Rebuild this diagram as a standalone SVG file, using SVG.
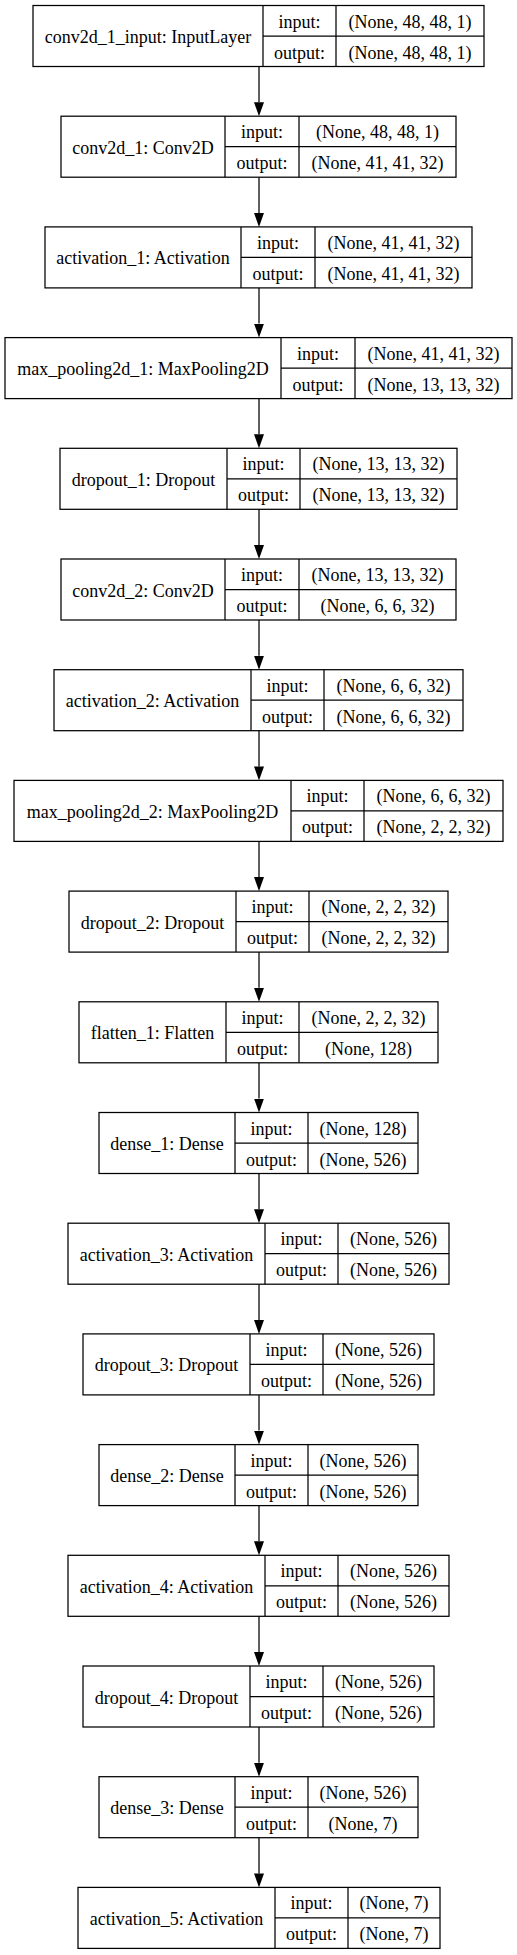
<svg xmlns="http://www.w3.org/2000/svg" width="517" height="1955" viewBox="0 0 517 1955">
<style>
.box{fill:#fff;stroke:#000;stroke-width:1.25}
.ln{stroke:#000;stroke-width:1.25;fill:none}
text{font-family:"Liberation Serif","Times New Roman",serif;font-size:18px;fill:#000;text-anchor:middle}
.edge{stroke:#000;stroke-width:1.25;fill:none;marker-end:url(#ah)}
</style>
<defs>
<marker id="ah" markerUnits="userSpaceOnUse" markerWidth="14" markerHeight="10" refX="0" refY="5" orient="auto">
<path d="M0,0 L14,5 L0,10 z" fill="#000"/>
</marker>
</defs>
<rect width="517" height="1955" fill="#fff"/>
<g id="connectors">
<line class="edge" x1="259" y1="66.5" x2="259" y2="102.2"/>
<line class="edge" x1="259" y1="177.2" x2="259" y2="212.9"/>
<line class="edge" x1="259" y1="287.9" x2="259" y2="323.6"/>
<line class="edge" x1="259" y1="398.6" x2="259" y2="434.3"/>
<line class="edge" x1="259" y1="509.3" x2="259" y2="545"/>
<line class="edge" x1="259" y1="620" x2="259" y2="655.7"/>
<line class="edge" x1="259" y1="730.7" x2="259" y2="766.4"/>
<line class="edge" x1="259" y1="841.4" x2="259" y2="877.1"/>
<line class="edge" x1="259" y1="952.1" x2="259" y2="987.8"/>
<line class="edge" x1="259" y1="1062.8" x2="259" y2="1098.5"/>
<line class="edge" x1="259" y1="1173.5" x2="259" y2="1209.2"/>
<line class="edge" x1="259" y1="1284.2" x2="259" y2="1319.9"/>
<line class="edge" x1="259" y1="1394.9" x2="259" y2="1430.6"/>
<line class="edge" x1="259" y1="1505.6" x2="259" y2="1541.3"/>
<line class="edge" x1="259" y1="1616.3" x2="259" y2="1652"/>
<line class="edge" x1="259" y1="1727" x2="259" y2="1762.7"/>
<line class="edge" x1="259" y1="1837.7" x2="259" y2="1873.4"/>
</g>
<g id="conv2d_1_input" transform="translate(0,5.5)">
<rect class="box" x="33" y="0" width="451" height="61"/>
<line class="ln" x1="263" y1="0" x2="263" y2="61"/><line class="ln" x1="336" y1="0" x2="336" y2="61"/><line class="ln" x1="263" y1="30.5" x2="484" y2="30.5"/>
<text x="148" y="37.5">conv2d_1_input: InputLayer</text>
<text x="299.5" y="22">input:</text><text x="299.5" y="53">output:</text>
<text x="410" y="22">(None, 48, 48, 1)</text><text x="410" y="53">(None, 48, 48, 1)</text>
</g>
<g id="conv2d_1" transform="translate(0,116.2)">
<rect class="box" x="61" y="0" width="395" height="61"/>
<line class="ln" x1="225" y1="0" x2="225" y2="61"/><line class="ln" x1="299" y1="0" x2="299" y2="61"/><line class="ln" x1="225" y1="30.5" x2="456" y2="30.5"/>
<text x="143" y="37.5">conv2d_1: Conv2D</text>
<text x="262" y="22">input:</text><text x="262" y="53">output:</text>
<text x="377.5" y="22">(None, 48, 48, 1)</text><text x="377.5" y="53">(None, 41, 41, 32)</text>
</g>
<g id="activation_1" transform="translate(0,226.9)">
<rect class="box" x="45" y="0" width="427" height="61"/>
<line class="ln" x1="241" y1="0" x2="241" y2="61"/><line class="ln" x1="315" y1="0" x2="315" y2="61"/><line class="ln" x1="241" y1="30.5" x2="472" y2="30.5"/>
<text x="143" y="37.5">activation_1: Activation</text>
<text x="278" y="22">input:</text><text x="278" y="53">output:</text>
<text x="393.5" y="22">(None, 41, 41, 32)</text><text x="393.5" y="53">(None, 41, 41, 32)</text>
</g>
<g id="max_pooling2d_1" transform="translate(0,337.6)">
<rect class="box" x="5" y="0" width="507" height="61"/>
<line class="ln" x1="281" y1="0" x2="281" y2="61"/><line class="ln" x1="355" y1="0" x2="355" y2="61"/><line class="ln" x1="281" y1="30.5" x2="512" y2="30.5"/>
<text x="143" y="37.5">max_pooling2d_1: MaxPooling2D</text>
<text x="318" y="22">input:</text><text x="318" y="53">output:</text>
<text x="433.5" y="22">(None, 41, 41, 32)</text><text x="433.5" y="53">(None, 13, 13, 32)</text>
</g>
<g id="dropout_1" transform="translate(0,448.3)">
<rect class="box" x="60" y="0" width="397" height="61"/>
<line class="ln" x1="227" y1="0" x2="227" y2="61"/><line class="ln" x1="300" y1="0" x2="300" y2="61"/><line class="ln" x1="227" y1="30.5" x2="457" y2="30.5"/>
<text x="143.5" y="37.5">dropout_1: Dropout</text>
<text x="263.5" y="22">input:</text><text x="263.5" y="53">output:</text>
<text x="378.5" y="22">(None, 13, 13, 32)</text><text x="378.5" y="53">(None, 13, 13, 32)</text>
</g>
<g id="conv2d_2" transform="translate(0,559)">
<rect class="box" x="61" y="0" width="395" height="61"/>
<line class="ln" x1="225" y1="0" x2="225" y2="61"/><line class="ln" x1="299" y1="0" x2="299" y2="61"/><line class="ln" x1="225" y1="30.5" x2="456" y2="30.5"/>
<text x="143" y="37.5">conv2d_2: Conv2D</text>
<text x="262" y="22">input:</text><text x="262" y="53">output:</text>
<text x="377.5" y="22">(None, 13, 13, 32)</text><text x="377.5" y="53">(None, 6, 6, 32)</text>
</g>
<g id="activation_2" transform="translate(0,669.7)">
<rect class="box" x="54" y="0" width="409" height="61"/>
<line class="ln" x1="251" y1="0" x2="251" y2="61"/><line class="ln" x1="324" y1="0" x2="324" y2="61"/><line class="ln" x1="251" y1="30.5" x2="463" y2="30.5"/>
<text x="152.5" y="37.5">activation_2: Activation</text>
<text x="287.5" y="22">input:</text><text x="287.5" y="53">output:</text>
<text x="393.5" y="22">(None, 6, 6, 32)</text><text x="393.5" y="53">(None, 6, 6, 32)</text>
</g>
<g id="max_pooling2d_2" transform="translate(0,780.4)">
<rect class="box" x="14" y="0" width="489" height="61"/>
<line class="ln" x1="291" y1="0" x2="291" y2="61"/><line class="ln" x1="364" y1="0" x2="364" y2="61"/><line class="ln" x1="291" y1="30.5" x2="503" y2="30.5"/>
<text x="152.5" y="37.5">max_pooling2d_2: MaxPooling2D</text>
<text x="327.5" y="22">input:</text><text x="327.5" y="53">output:</text>
<text x="433.5" y="22">(None, 6, 6, 32)</text><text x="433.5" y="53">(None, 2, 2, 32)</text>
</g>
<g id="dropout_2" transform="translate(0,891.1)">
<rect class="box" x="69" y="0" width="379" height="61"/>
<line class="ln" x1="236" y1="0" x2="236" y2="61"/><line class="ln" x1="309" y1="0" x2="309" y2="61"/><line class="ln" x1="236" y1="30.5" x2="448" y2="30.5"/>
<text x="152.5" y="37.5">dropout_2: Dropout</text>
<text x="272.5" y="22">input:</text><text x="272.5" y="53">output:</text>
<text x="378.5" y="22">(None, 2, 2, 32)</text><text x="378.5" y="53">(None, 2, 2, 32)</text>
</g>
<g id="flatten_1" transform="translate(0,1001.8)">
<rect class="box" x="79" y="0" width="359" height="61"/>
<line class="ln" x1="226" y1="0" x2="226" y2="61"/><line class="ln" x1="299" y1="0" x2="299" y2="61"/><line class="ln" x1="226" y1="30.5" x2="438" y2="30.5"/>
<text x="152.5" y="37.5">flatten_1: Flatten</text>
<text x="262.5" y="22">input:</text><text x="262.5" y="53">output:</text>
<text x="368.5" y="22">(None, 2, 2, 32)</text><text x="368.5" y="53">(None, 128)</text>
</g>
<g id="dense_1" transform="translate(0,1112.5)">
<rect class="box" x="99" y="0" width="319" height="61"/>
<line class="ln" x1="235" y1="0" x2="235" y2="61"/><line class="ln" x1="308" y1="0" x2="308" y2="61"/><line class="ln" x1="235" y1="30.5" x2="418" y2="30.5"/>
<text x="167" y="37.5">dense_1: Dense</text>
<text x="271.5" y="22">input:</text><text x="271.5" y="53">output:</text>
<text x="363" y="22">(None, 128)</text><text x="363" y="53">(None, 526)</text>
</g>
<g id="activation_3" transform="translate(0,1223.2)">
<rect class="box" x="68" y="0" width="381" height="61"/>
<line class="ln" x1="265" y1="0" x2="265" y2="61"/><line class="ln" x1="338" y1="0" x2="338" y2="61"/><line class="ln" x1="265" y1="30.5" x2="449" y2="30.5"/>
<text x="166.5" y="37.5">activation_3: Activation</text>
<text x="301.5" y="22">input:</text><text x="301.5" y="53">output:</text>
<text x="393.5" y="22">(None, 526)</text><text x="393.5" y="53">(None, 526)</text>
</g>
<g id="dropout_3" transform="translate(0,1333.9)">
<rect class="box" x="83" y="0" width="351" height="61"/>
<line class="ln" x1="250" y1="0" x2="250" y2="61"/><line class="ln" x1="323" y1="0" x2="323" y2="61"/><line class="ln" x1="250" y1="30.5" x2="434" y2="30.5"/>
<text x="166.5" y="37.5">dropout_3: Dropout</text>
<text x="286.5" y="22">input:</text><text x="286.5" y="53">output:</text>
<text x="378.5" y="22">(None, 526)</text><text x="378.5" y="53">(None, 526)</text>
</g>
<g id="dense_2" transform="translate(0,1444.6)">
<rect class="box" x="99" y="0" width="319" height="61"/>
<line class="ln" x1="235" y1="0" x2="235" y2="61"/><line class="ln" x1="308" y1="0" x2="308" y2="61"/><line class="ln" x1="235" y1="30.5" x2="418" y2="30.5"/>
<text x="167" y="37.5">dense_2: Dense</text>
<text x="271.5" y="22">input:</text><text x="271.5" y="53">output:</text>
<text x="363" y="22">(None, 526)</text><text x="363" y="53">(None, 526)</text>
</g>
<g id="activation_4" transform="translate(0,1555.3)">
<rect class="box" x="68" y="0" width="381" height="61"/>
<line class="ln" x1="265" y1="0" x2="265" y2="61"/><line class="ln" x1="338" y1="0" x2="338" y2="61"/><line class="ln" x1="265" y1="30.5" x2="449" y2="30.5"/>
<text x="166.5" y="37.5">activation_4: Activation</text>
<text x="301.5" y="22">input:</text><text x="301.5" y="53">output:</text>
<text x="393.5" y="22">(None, 526)</text><text x="393.5" y="53">(None, 526)</text>
</g>
<g id="dropout_4" transform="translate(0,1666)">
<rect class="box" x="83" y="0" width="351" height="61"/>
<line class="ln" x1="250" y1="0" x2="250" y2="61"/><line class="ln" x1="323" y1="0" x2="323" y2="61"/><line class="ln" x1="250" y1="30.5" x2="434" y2="30.5"/>
<text x="166.5" y="37.5">dropout_4: Dropout</text>
<text x="286.5" y="22">input:</text><text x="286.5" y="53">output:</text>
<text x="378.5" y="22">(None, 526)</text><text x="378.5" y="53">(None, 526)</text>
</g>
<g id="dense_3" transform="translate(0,1776.7)">
<rect class="box" x="99" y="0" width="319" height="61"/>
<line class="ln" x1="235" y1="0" x2="235" y2="61"/><line class="ln" x1="308" y1="0" x2="308" y2="61"/><line class="ln" x1="235" y1="30.5" x2="418" y2="30.5"/>
<text x="167" y="37.5">dense_3: Dense</text>
<text x="271.5" y="22">input:</text><text x="271.5" y="53">output:</text>
<text x="363" y="22">(None, 526)</text><text x="363" y="53">(None, 7)</text>
</g>
<g id="activation_5" transform="translate(0,1887.4)">
<rect class="box" x="78" y="0" width="362" height="61"/>
<line class="ln" x1="275" y1="0" x2="275" y2="61"/><line class="ln" x1="348" y1="0" x2="348" y2="61"/><line class="ln" x1="275" y1="30.5" x2="440" y2="30.5"/>
<text x="176.5" y="37.5">activation_5: Activation</text>
<text x="311.5" y="22">input:</text><text x="311.5" y="53">output:</text>
<text x="394" y="22">(None, 7)</text><text x="394" y="53">(None, 7)</text>
</g>
</svg>
